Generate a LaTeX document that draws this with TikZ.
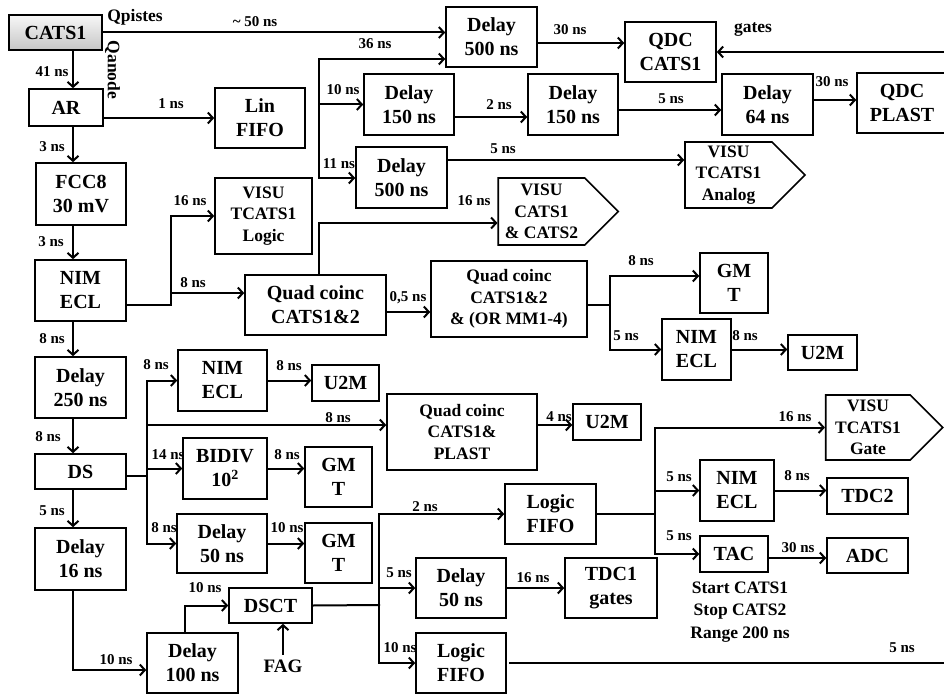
\documentclass[tikz,border=0pt]{standalone}
\usepackage{fontspec}
\setmainfont{Liberation Serif}
\usetikzlibrary{arrows.meta,shapes.symbols}

\begin{document}
\begin{tikzpicture}[
  x=1pt, y=-1pt,
  box/.style  = {rectangle, draw=black, line width=1.6pt, fill=white, inner sep=0pt,
                 align=center, font=\fontsize{20}{24}\selectfont\bfseries},
  sbox/.style = {box, font=\fontsize{17.5}{21.5}\selectfont\bfseries},
  visu/.style = {signal, signal to=east, signal pointer angle=90, draw=black,
                 line width=1.6pt, fill=white, inner sep=0pt, align=center,
                 font=\fontsize{17.5}{21.5}\selectfont\bfseries},
  lbl/.style  = {inner sep=0pt, font=\fontsize{15}{17}\selectfont\bfseries},
  note/.style = {inner sep=0pt, align=center, font=\fontsize{17.5}{22.5}\selectfont\bfseries},
  arr/.style  = {-{Straight Barb[length=5pt,width=11pt]}, line width=2pt, line cap=rect},
  wire/.style = {line width=2pt, line cap=rect}
]
\useasboundingbox (0,0) rectangle (944,695);

\node[box, top color=gray!6, bottom color=gray!45, minimum width=93pt, minimum height=35pt] (cats) at (55.5,32.5) {CATS1};
\node[box, minimum width=74pt, minimum height=37pt] (ar)      at (66,107.5)   {AR};
\node[box, minimum width=90pt, minimum height=60pt] (linfifo) at (260,118)    {Lin\\FIFO};
\node[box, minimum width=90pt, minimum height=62pt] (fcc)     at (81,194)     {FCC8\\30 mV};
\node[box, minimum width=91pt, minimum height=61pt] (nim1)    at (80.5,290.5) {NIM\\ECL};
\node[box, minimum width=91pt, minimum height=61pt] (d250)    at (80.5,387.5) {Delay\\250 ns};
\node[box, minimum width=91pt, minimum height=35pt] (ds)      at (80.5,471.5) {DS};
\node[box, minimum width=91pt, minimum height=62pt] (d16)     at (80.5,559)   {Delay\\16 ns};
\node[box, minimum width=91pt, minimum height=60pt] (d100)    at (192.5,663)  {Delay\\100 ns};
\node[box, minimum width=83pt, minimum height=35pt] (dsct)    at (270.5,605.5) {DSCT};
\node[lbl, font=\fontsize{19}{22}\selectfont\bfseries] (fag) at (283,666) {FAG};

\node[box, minimum width=91pt, minimum height=60pt] (d500a) at (491.5,37)   {Delay\\500 ns};
\node[box, minimum width=90pt, minimum height=61pt] (d150a) at (409,104.5)  {Delay\\150 ns};
\node[box, minimum width=90pt, minimum height=61pt] (d150b) at (573,104.5)  {Delay\\150 ns};
\node[box, minimum width=91pt, minimum height=61pt] (d64)   at (767.5,104.5) {Delay\\64 ns};
\node[box, minimum width=90pt, minimum height=60pt] (qdcp)  at (902,103)    {QDC\\PLAST};
\node[box, minimum width=91pt, minimum height=60pt] (qdcc)  at (670.5,52)   {QDC\\CATS1};
\node[box, minimum width=91pt, minimum height=61pt] (d500b) at (401.5,177.5) {Delay\\500 ns};
\node[visu, minimum width=120pt, minimum height=66pt] (visua) at (728.5,175) {VISU\\TCATS1\\Analog};
\node[sbox, minimum width=97pt, minimum height=76pt] (visul) at (263.5,216)  {VISU\\TCATS1\\Logic};
\node[visu, minimum width=120pt, minimum height=67pt] (visuc) at (541.5,211.5) {VISU\\CATS1\\\& CATS2};

\node[box, minimum width=141pt, minimum height=60pt] (quad1) at (315.5,305) {Quad coinc\\CATS1\&2};
\node[sbox, minimum width=156pt, minimum height=76pt] (quad2) at (509,299) {Quad coinc\\CATS1\&2\\\& (OR MM1-4)};
\node[box, minimum width=68pt, minimum height=60pt] (gmt1) at (734,283)     {GM\\T};
\node[box, minimum width=69pt, minimum height=61pt] (nim3) at (696.5,349.5) {NIM\\ECL};
\node[box, minimum width=69pt, minimum height=35pt] (u2m3) at (822.5,352.5) {U2M};

\node[box, minimum width=89pt, minimum height=61pt] (nim2)  at (222.5,380.5) {NIM\\ECL};
\node[box, minimum width=67pt, minimum height=36pt] (u2m1)  at (345.5,383)   {U2M};
\node[sbox, minimum width=150pt, minimum height=76pt] (quadp) at (462,432)   {Quad coinc\\CATS1\&\\PLAST};
\node[box, minimum width=68pt, minimum height=36pt] (u2m2)  at (607,422)     {U2M};
\node[box, minimum width=84pt, minimum height=61pt] (bidiv) at (225,468.5)   {BIDIV\\10\textsuperscript{2}};
\node[box, minimum width=67pt, minimum height=60pt] (gmt2)  at (338.5,477)   {GM\\T};
\node[box, minimum width=90pt, minimum height=59pt] (d50a)  at (222,543.5)   {Delay\\50 ns};
\node[box, minimum width=67pt, minimum height=60pt] (gmt3)  at (338.5,553)   {GM\\T};

\node[box, minimum width=91pt, minimum height=60pt] (lfifo1) at (550.5,514) {Logic\\FIFO};
\node[box, minimum width=90pt, minimum height=60pt] (d50b)   at (461,588)   {Delay\\50 ns};
\node[box, minimum width=92pt, minimum height=60pt] (tdc1)   at (611,588)   {TDC1\\gates};
\node[box, minimum width=90pt, minimum height=60pt] (lfifo2) at (461,663)   {Logic\\FIFO};
\node[visu, minimum width=117pt, minimum height=65pt] (visug) at (868,427.5) {VISU\\TCATS1\\Gate};
\node[box, minimum width=74pt, minimum height=61pt] (nim4) at (737,490.5)  {NIM\\ECL};
\node[box, minimum width=81pt, minimum height=36pt] (tdc2) at (867.5,496)  {TDC2};
\node[box, minimum width=68pt, minimum height=36pt] (tac)  at (734,554)    {TAC};
\node[box, minimum width=81pt, minimum height=35pt] (adc)  at (867.5,555.5) {ADC};
\node[note] (tacnote) at (740,612) {Start CATS1\\Stop CATS2\\Range 200 ns};

\coordinate (spine) at (73,0);
\coordinate (b1)  at (319,59);
\coordinate (b1e) at (319,178);
\coordinate (b2)  at (171,305);
\coordinate (b3)  at (379,605);
\coordinate (b4)  at (655,514);
\coordinate (b5)  at (610,305);
\coordinate (b6)  at (147,476);
\coordinate (redge1) at (950,52);
\coordinate (redge2) at (950,663);

\draw[arr] (cats.south -| spine) -- (ar.north -| spine);
\draw[arr] (ar.south -| spine)   -- (fcc.north -| spine);
\draw[arr] (fcc.south -| spine)  -- (nim1.north -| spine);
\draw[arr] (nim1.south -| spine) -- (d250.north -| spine);
\draw[arr] (d250.south -| spine) -- (ds.north -| spine);
\draw[arr] (ds.south -| spine)   -- (d16.north -| spine);
\draw[arr] (d16.south -| spine)  |- ([yshift=-7pt]d100.west);
\draw[arr] ([xshift=-7.5pt]d100.north) |- (dsct.west);
\draw[arr] ([yshift=5pt]fag.north) -- (dsct.south -| fag.north);

\draw[arr] (cats.east) -- (cats.east -| d500a.west);
\draw[arr] (linfifo.west -| ar.east) -- (linfifo.west);
\draw[wire] (b1) -- (b1e);
\draw[arr] (b1) -- (b1 -| d500a.west);
\draw[arr] (d150a.west -| b1) -- (d150a.west);
\draw[arr] (b1e) -- (b1e -| d500b.west);
\draw[arr] ([yshift=-6pt]d500a.east) -- ([yshift=-6pt]d500a.east -| qdcc.west);
\draw[arr] (redge1) -- (qdcc.east);
\draw[arr] ([yshift=-12.5pt]d150a.east) -- ([yshift=-12.5pt]d150a.east -| d150b.west);
\draw[arr] ([yshift=-5.5pt]d150b.east) -- ([yshift=-5.5pt]d150b.east -| d64.west);
\draw[arr] ([yshift=4.5pt]d64.east) -- ([yshift=4.5pt]d64.east -| qdcp.west);
\draw[arr] ([yshift=17.5pt]d500b.east) -- ([yshift=17.5pt]d500b.east -| visua.west);

\draw[wire] ([yshift=-14.5pt]nim1.east) -- (b2);
\draw[arr] (b2) |- (visul.west);
\draw[arr] ([yshift=12pt]quad1.west -| b2) -- ([yshift=12pt]quad1.west);
\draw[arr] ([xshift=3.5pt]quad1.north) |- ([yshift=-11.5pt]visuc.west);
\draw[arr] ([yshift=-7pt]quad1.east) -- ([yshift=-7pt]quad1.east -| quad2.west);
\draw[wire] ([yshift=-6pt]quad2.east) -- (b5);
\draw[arr] (b5) |- ([yshift=7pt]gmt1.west);
\draw[arr] (b5) |- (nim3.west);
\draw[arr] (nim3.east) -- (nim3.east -| u2m3.west);

\draw[wire] ([yshift=-4.5pt]ds.east) -- (b6);
\draw[arr] (b6) |- (nim2.west);
\draw[arr] (b6) |- (d50a.west);
\draw[arr] (bidiv.west -| b6) -- (bidiv.west);
\draw[arr] ([yshift=7pt]quadp.west -| b6) -- ([yshift=7pt]quadp.west);
\draw[arr] (nim2.east) -- (nim2.east -| u2m1.west);
\draw[arr] ([yshift=7pt]quadp.east) -- ([yshift=7pt]quadp.east -| u2m2.west);
\draw[arr] (bidiv.east) -- (bidiv.east -| gmt2.west);
\draw[arr] (d50a.east) -- (d50a.east -| gmt3.west);

\draw[wire] (dsct.east) -- (b3);
\draw[arr] (b3) |- (lfifo1.west);
\draw[arr] (b3) |- (lfifo2.west);
\draw[arr] (d50b.west -| b3) -- (d50b.west);
\draw[arr] (d50b.east) -- (d50b.east -| tdc1.west);
\draw[wire] ([xshift=3pt]lfifo2.east) -- (redge2);
\draw[wire] (lfifo1.east) -- (b4);
\draw[arr] (b4) |- (visug.west);
\draw[arr] (b4) |- (nim4.west);
\draw[arr] (b4) |- (tac.west);
\draw[arr] (nim4.east) -- (nim4.east -| tdc2.west);
\draw[arr] ([yshift=-4pt]tac.east) -- ([yshift=-4pt]tac.east -| adc.west);

\node[lbl, font=\fontsize{17.5}{20}\selectfont\bfseries] (qpistes) at (135,17.5) {Qpistes};
\node[lbl, font=\fontsize{17.5}{20}\selectfont\bfseries, rotate=-90] (qanode) at (112.5,70) {Qanode};
\node[lbl, font=\fontsize{17.5}{20}\selectfont\bfseries] (gates) at (753,30) {gates};
\node[lbl] (t50)   at (255,22)  {\char`~\ 50 ns};
\node[lbl] (t41)   at (52,72)   {41 ns};
\node[lbl] (t1)    at (171,104) {1 ns};
\node[lbl] (t3a)   at (52,147)  {3 ns};
\node[lbl] (t3b)   at (51,242)  {3 ns};
\node[lbl] (t8a)   at (52,339)  {8 ns};
\node[lbl] (t8b)   at (48,437)  {8 ns};
\node[lbl] (t5a)   at (52,511)  {5 ns};
\node[lbl] (t10a)  at (116,660) {10 ns};
\node[lbl] (t10b)  at (205,588) {10 ns};
\node[lbl] (t36)   at (375,44)  {36 ns};
\node[lbl] (t30a)  at (570,30)  {30 ns};
\node[lbl] (t10c)  at (343,90)  {10 ns};
\node[lbl] (t2a)   at (499,105) {2 ns};
\node[lbl] (t5b)   at (503,149) {5 ns};
\node[lbl] (t11)   at (339,164) {11 ns};
\node[lbl] (t16a)  at (474,201) {16 ns};
\node[lbl] (t5c)   at (671,99)  {5 ns};
\node[lbl] (t30b)  at (832,82)  {30 ns};
\node[lbl] (t16b)  at (190,201) {16 ns};
\node[lbl] (t8c)   at (193,283) {8 ns};
\node[lbl] (t8d)   at (156,365) {8 ns};
\node[lbl] (t8e)   at (289,366) {8 ns};
\node[lbl] (t8f)   at (338,418) {8 ns};
\node[lbl] (t14)   at (168,455) {14 ns};
\node[lbl] (t8g)   at (287,455) {8 ns};
\node[lbl] (t8h)   at (164,528) {8 ns};
\node[lbl] (t10d)  at (287,528) {10 ns};
\node[lbl] (t05)   at (408,298) {0,5 ns};
\node[lbl] (t4)    at (559,417) {4 ns};
\node[lbl] (t8i)   at (641,261) {8 ns};
\node[lbl] (t5d)   at (626,336) {5 ns};
\node[lbl] (t8j)   at (745,336) {8 ns};
\node[lbl] (t16c)  at (795,417) {16 ns};
\node[lbl] (t2b)   at (425,507) {2 ns};
\node[lbl] (t5e)   at (399,573) {5 ns};
\node[lbl] (t10e)  at (400,648) {10 ns};
\node[lbl] (t16d)  at (533,578) {16 ns};
\node[lbl] (t5f)   at (679,477) {5 ns};
\node[lbl] (t8k)   at (797,476) {8 ns};
\node[lbl] (t5g)   at (679,536) {5 ns};
\node[lbl] (t30c)  at (798,548) {30 ns};
\node[lbl] (t5h)   at (902,648) {5 ns};
\end{tikzpicture}
\end{document}
